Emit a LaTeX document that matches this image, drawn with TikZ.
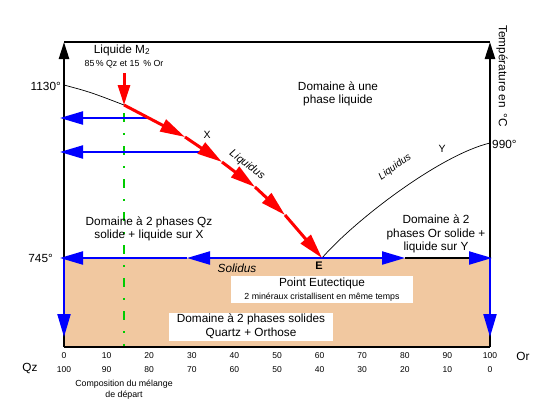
\documentclass[tikz,border=0pt]{standalone}
\usepackage{fontspec}
\setmainfont{Liberation Sans}
\usetikzlibrary{arrows.meta}
\definecolor{tanfill}{RGB}{241,200,160}
\definecolor{bl}{RGB}{0,0,255}
\definecolor{rd}{RGB}{255,0,0}
\definecolor{gr}{RGB}{0,204,0}
\begin{document}
\begin{tikzpicture}[x=1pt,y=-1pt,
  lbl/.style={inner sep=0pt, font=\fontsize{11.8}{13.5}\selectfont, align=center},
  sml/.style={inner sep=0pt, font=\fontsize{8.8}{11.5}\selectfont, align=center},
  ticklbl/.style={inner sep=0pt, font=\fontsize{8.5}{10}\selectfont},
  axisline/.style={line width=2.5pt, black},
  axisarr/.style={line width=2.5pt, black, -{Triangle[length=17pt,width=10pt]}},
  bluearr/.style={line width=2.2pt, bl, -{Triangle[length=23pt,width=13pt]}},
  redarr/.style={line width=3pt, rd, -{Triangle[length=25pt,width=13pt]}},
  redvert/.style={line width=3pt, rd, -{Triangle[length=20pt,width=12pt]}},
  thincurve/.style={line width=0.7pt, black},
  whitebox/.style={fill=white, draw=none},
  greenline/.style={line width=2pt, gr, dash pattern=on 9pt off 11pt on 2pt off 11pt, dash phase=22pt}
]
\useasboundingbox[fill=white] (0,0) rectangle (544,410);

% key coordinates
\coordinate (BL) at (64,347);
\coordinate (BR) at (490,347);
\coordinate (TL) at (64,42);
\coordinate (TR) at (490,42);
\coordinate (SL) at (64,258);
\coordinate (SR) at (490,258);
\coordinate (E) at (322,258);
\coordinate (T1130) at (64,85);
\coordinate (T990) at (490,143);
\coordinate (M) at (124,105);
\coordinate (Mtop) at (124,73);
\coordinate (P1) at (185,137);
\coordinate (P2) at (222,162);
\coordinate (P3) at (255,187);
\coordinate (P4) at (285,215);
\coordinate (H1) at (148,118);
\coordinate (H1e) at (60,118);
\coordinate (H2) at (208,152);
\coordinate (H2e) at (60,152);
\coordinate (SmidL) at (187,258);
\coordinate (SendL) at (60,258);
\coordinate (SmidR) at (405,258);
\coordinate (SblkR) at (470,258);
\coordinate (SendR) at (492,258);
\coordinate (VL) at (64,337);
\coordinate (VR) at (490,337);
\coordinate (Gtop) at (124,69);
\coordinate (Gbot) at (124,347);

% solid region
\fill[tanfill] (SL) rectangle (BR);
\fill[whitebox] (231,276) rectangle (413,303);
\fill[whitebox] (169,313) rectangle (333,341);

% green composition line
\draw[greenline] (Gtop) -- (Gbot);

% frame and axes
\draw[line width=1.5pt] (TL) -- (TR);
\draw[line width=1.5pt] (BL) -- (BR);
\draw[axisarr] (BL) -- (TL);
\draw[axisarr] (BR) -- (TR);

% liquidus curves
\draw[thincurve] (T1130) .. controls (90,92) .. (M);
\draw[thincurve] (E) .. controls (355,220) and (440,155) .. (T990);

% blue horizontals
\draw[bluearr] (H1) -- (H1e);
\draw[bluearr] (H2) -- (H2e);
\draw[bluearr] (E) -- (SmidL);
\draw[bluearr] (SmidL) -- (SendL);
\draw[bluearr] (E) -- (SmidR);
\draw[line width=2pt, black] (SmidR) -- (SblkR);
\draw[bluearr] (SblkR) -- (SendR);
\draw[bluearr] (SL) -- (VL);
\draw[bluearr] (SR) -- (VR);

% red path
\draw[redvert] (Mtop) -- (M);
\draw[redarr] (M) -- (P1);
\draw[redarr] (P1) -- (P2);
\draw[redarr] (P2) -- (P3);
\draw[redarr] (P3) -- (P4);
\draw[redarr] (P4) -- (E);

% texts
\node[lbl] (liqM) at (122,50) {Liquide M\textsubscript{2}};
\node[sml] (comp85) at (124,64) {85\,\% Qz et 15 \,\% Or};
\node[lbl] (dom1) at (338,94) {Domaine à une\\phase liquide};
\node[lbl, rotate=-90] (temp) at (502,76) {Température en \,°C};
\node[lbl, anchor=east] (t1130) at (61,86) {1130°};
\node[lbl, anchor=west] (t990) at (492,144) {990°};
\node[lbl, anchor=east] (t745) at (53,258) {745°};
\node[lbl, font=\fontsize{10.5}{12}\selectfont] (lx) at (207,135) {X};
\node[lbl, font=\fontsize{10.5}{12}\selectfont] (ly) at (442,149) {Y};
\node[lbl, font=\fontsize{11}{12}\itshape, rotate=-37] (liq1) at (247,165) {Liquidus};
\node[lbl, font=\fontsize{10}{12}\itshape, rotate=36] (liq2) at (395,167) {Liquidus};
\node[lbl] (domqz) at (149,229) {Domaine à 2 phases Qz\\solide + liquide sur X};
\node[lbl] (domor) at (436,234) {Domaine à 2\\phases Or solide +\\liquide sur Y};
\node[lbl, font=\fontsize{11.8}{13.5}\itshape] (sol) at (237,268) {Solidus};
\node[lbl, font=\fontsize{11}{13}\bfseries] (le) at (319,266) {E};
\node[lbl] (pe) at (322,283) {Point Eutectique};
\node[sml] (pe2) at (322,297) {2 minéraux cristallisent en même temps};
\node[lbl] (dsol) at (251,326.5) {Domaine à 2 phases solides\\Quartz + Orthose};
\node[lbl] (qz) at (30,368) {Qz};
\node[lbl] (or) at (523,356) {Or};
\foreach \i in {0,...,10}{
  \pgfmathtruncatemacro{\top}{10*\i}
  \pgfmathtruncatemacro{\bot}{100-10*\i}
  \node[ticklbl] (tt\i) at ({64+42.6*\i},356) {\top};
  \node[ticklbl] (tb\i) at ({64+42.6*\i},370) {\bot};
}
\node[sml] (cdep) at (124,389.5) {Composition du mélange\\de départ};
\end{tikzpicture}
\end{document}
